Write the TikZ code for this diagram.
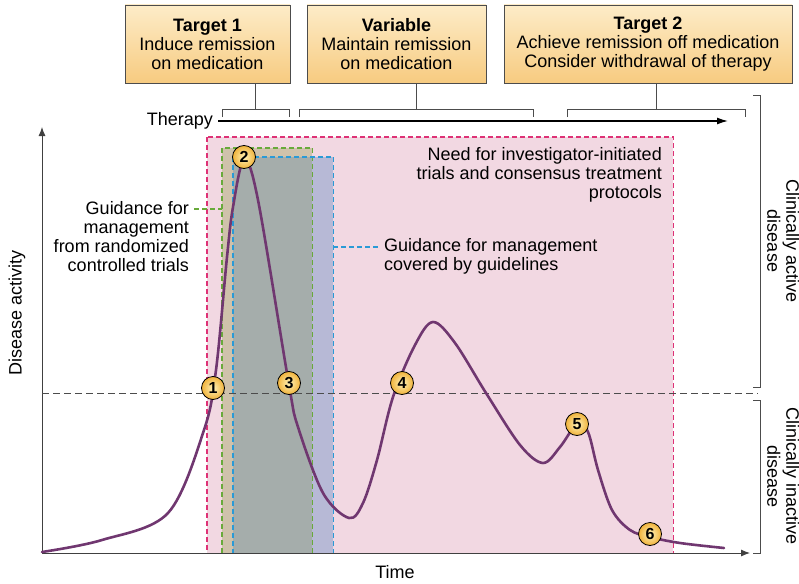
\documentclass[tikz,border=0pt]{standalone}
\usepackage{fontspec}
\setmainfont{Liberation Sans}
\usepackage{tikz}
\usetikzlibrary{arrows.meta,positioning,calc,shadings}
\definecolor{BoxTop}{RGB}{253,236,200}
\definecolor{BoxBot}{RGB}{247,203,128}
\definecolor{PinkFill}{RGB}{242,216,226}
\definecolor{PinkLine}{RGB}{222,50,118}
\definecolor{GrnLine}{RGB}{104,170,58}
\definecolor{GrnFill}{RGB}{207,194,171}
\definecolor{BluLine}{RGB}{42,154,214}
\definecolor{BluFill}{RGB}{183,185,214}
\definecolor{OvlFill}{RGB}{165,173,171}
\definecolor{CurvePurple}{RGB}{112,55,112}
\definecolor{BallIn}{RGB}{255,242,185}
\definecolor{BallOut}{RGB}{240,178,58}

\begin{document}
\begin{tikzpicture}[x=1pt,y=-1pt,
  txt/.style={font=\fontsize{18}{19}\selectfont,inner sep=0pt},
  tbox/.style={draw=black!70,top color=BoxTop,bottom color=BoxBot,
               minimum height=78,align=center,font=\fontsize{18}{19}\selectfont},
  ball/.style={circle,draw=black,line width=0.8pt,inner sep=0pt,minimum size=23,
               shading=radial,inner color=BallIn,outer color=BallOut,
               font=\fontsize{16}{16}\selectfont\bfseries},
  brk/.style={black!70,line width=0.7pt},
  dsh/.style={line width=1.3pt,dash pattern=on 5pt off 3pt},
  ax/.style={black!75,line width=0.9pt,-{Latex[length=9pt,width=7pt]}},
]
\useasboundingbox (0,0) rectangle (799,583);

\node[tbox,minimum width=165] (tgt1) at (207.5,44) {\textbf{Target 1}\\Induce remission\\on medication};
\node[tbox,minimum width=179] (var) at (396.5,44) {\textbf{Variable}\\Maintain remission\\on medication};
\node[tbox,minimum width=288] (tgt2) at (648,44) {\textbf{Target 2}\\Achieve remission off medication\\Consider withdrawal of therapy};
\foreach \n/\l/\r in {tgt1/222/289,var/299/533,tgt2/567/745}{
  \coordinate (\n-l) at (\l,109);
  \coordinate (\n-r) at (\r,109);
  \coordinate (\n-m) at ($(\n-l)!0.5!(\n-r)$);
  \draw[brk] ($(\n-l)+(0,8)$) -- (\n-l) -- (\n-r) -- ++(0,8);
  \draw[brk] (\n.south -| \n-m) -- (\n-m);
}
\node[txt,anchor=east] (thr) at (213,121) {Therapy};
\coordinate (thrend) at (728,121);
\draw[black,line width=1.4pt,-{Latex[length=11pt,width=7pt]}] ([xshift=5]thr.east) -- (thrend);

\node[fill=PinkFill,anchor=north west,minimum width=466,minimum height=416,inner sep=0pt] (pnk) at (207,137) {};
\node[fill=GrnFill,anchor=north west,minimum width=90,minimum height=405,inner sep=0pt] (grn) at (222,148) {};
\node[fill=BluFill,anchor=north west,minimum width=100,minimum height=396,inner sep=0pt] (blu) at (233,157) {};
\fill[OvlFill] (blu.north west) rectangle (grn.south east);
\draw[PinkLine,dsh,line width=1.6pt] (pnk.north west) rectangle (pnk.south east);
\draw[GrnLine,dsh] (grn.north west) rectangle (grn.south east);
\draw[BluLine,dsh] (blu.north west) rectangle (blu.south east);

\node[txt,anchor=north east,align=right] (need) at (662,147)
  {Need for investigator-initiated\\trials and consensus treatment\\protocols};
\node[txt,anchor=east,align=right] (rct) at (189,237)
  {Guidance for\\management\\from randomized\\controlled trials};
\node[txt,anchor=west,align=left] (gdl) at (384,256)
  {Guidance for management\\covered by guidelines};
\coordinate (gtip) at (194,209);
\coordinate (btip) at (378,247);
\draw[GrnLine,dsh] (gtip) -- (gtip -| grn.west);
\draw[BluLine,dsh] (blu.east |- btip) -- (btip);

\coordinate (org) at (42,553);
\coordinate (ytop) at (42,127);
\coordinate (xend) at (750,553);
\draw[ax] (org) -- (ytop);
\draw[ax] (org) -- (xend);
\coordinate (thl) at (42,393);
\coordinate (thr2) at (758,393);
\draw[black!70,line width=1pt,dash pattern=on 7pt off 4pt] (thl) -- (thr2);

\node[txt,rotate=90] (dact) at (17,313) {Disease activity};
\node[txt] (time) at (395,572) {Time};

\coordinate (a1) at (760,95);
\coordinate (a2) at (760,387);
\coordinate (i1) at (760,400);
\coordinate (i2) at (760,553);
\draw[brk] ($(a1)+(-7,0)$) -- (a1) -- (a2) -- ++(-7,0);
\draw[brk] ($(i1)+(-7,0)$) -- (i1) -- (i2) -- ++(-7,0);
\node[txt,rotate=-90,anchor=south,align=center] (act) at ($(a1)!0.5!(a2)+(7,0)$) {Clinically active\\disease};
\node[txt,rotate=-90,anchor=south,align=center] (inact) at ($(i1)!0.5!(i2)+(7,0)$) {Clinically inactive\\disease};

\draw[CurvePurple,line width=2.6pt,line cap=round] plot[smooth,tension=0.55] coordinates {
  (42,552) (102,540) (168,513) (204,430) (216,370) (227,257) (233,207) (244,160)
  (258,200) (289,385) (298,427) (323,493) (349,518) (363,503) (377,460)
  (393,397) (415,345) (433,322) (455,343) (486,393) (520,445) (543,463) (560,447)
  (577,424) (588,432) (598,470) (612,510) (630,530) (650,537) (680,543) (724,548)};

\foreach \i/\p in {1/{(213,388)},2/{(244,157)},3/{(289,383)},4/{(402,383)},5/{(577,424)},6/{(650,534)}}
  \node[ball] (c\i) at \p {\i};
\end{tikzpicture}
\end{document}
